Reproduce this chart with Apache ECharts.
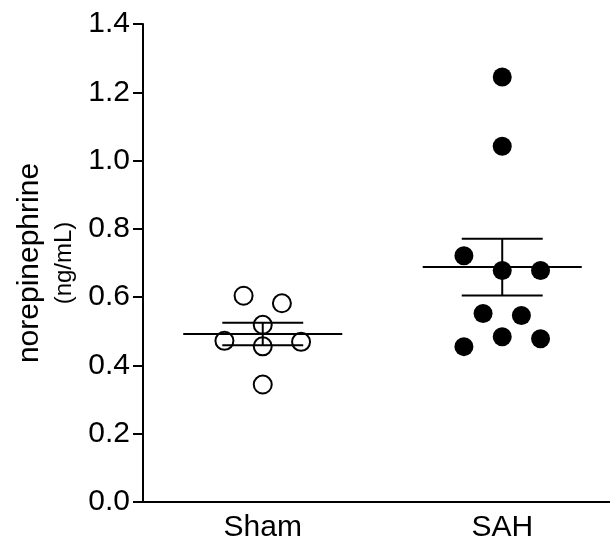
<!DOCTYPE html>
<html>
<head>
<meta charset="utf-8">
<script src="https://cdn.jsdelivr.net/npm/echarts@6/dist/echarts.min.js"></script>
<style>
html, body { margin: 0; padding: 0; background: #fff; }
#chart { width: 610px; height: 540px; }
</style>
</head>
<body>
<div id="chart"></div>
<script>
// groups on the x axis (positions 1 and 2)
const groups = ['Sham', 'SAH']
// individual values, with their horizontal scatter offsets
const shamValues = [0.604, 0.582, 0.519, 0.472, 0.456, 0.469, 0.344]
const shamOffsets = [-0.08, 0.08, 0, -0.16, 0, 0.16, 0]
const sahValues = [1.245, 1.042, 0.721, 0.678, 0.678, 0.552, 0.546, 0.484, 0.478, 0.455]
const sahOffsets = [0, 0, -0.16, 0, 0.16, -0.08, 0.08, 0, 0.16, -0.16]
// mean and SEM per group
const means = [0.492, 0.688]
const sems = [0.033, 0.083]

const font = 'Liberation Sans, Arial, sans-serif'
const chart = echarts.init(document.getElementById('chart'))

const shamData = shamValues.map((v, i) => [1 + shamOffsets[i], v])
const sahData = sahValues.map((v, i) => [2 + sahOffsets[i], v])
const errData = means.map((m, i) => [i + 1, m, sems[i]])

const option = {
  animation: false,
  grid: {
    left: 143,
    right: 0,
    top: 24,
    bottom: 38,
    containLabel: false,
    outerBoundsMode: 'none'
  },
  xAxis: {
    type: 'value',
    min: 0.5,
    max: 2.45,
    interval: 0.5,
    splitLine: { show: false },
    axisTick: { show: false },
    axisLine: { show: true, onZero: false, lineStyle: { color: '#000', width: 2 } },
    axisLabel: {
      margin: 11,
      color: '#000',
      fontSize: 30,
      fontFamily: font,
      showMinLabel: true,
      showMaxLabel: false,
      formatter: function (v) {
        return Number.isInteger(v) ? groups[v - 1] : ''
      }
    }
  },
  yAxis: {
    type: 'value',
    min: 0,
    max: 1.4,
    interval: 0.2,
    splitLine: { show: false },
    axisLine: { show: true, lineStyle: { color: '#000', width: 2 } },
    axisTick: { show: true, length: 10, lineStyle: { color: '#000', width: 2 } },
    axisLabel: {
      margin: 13,
      color: '#000',
      fontSize: 30,
      fontFamily: font,
      formatter: v => v.toFixed(1)
    },
    name: '{a|norepinephrine}\n{b|(ng/mL)}',
    nameLocation: 'middle',
    nameRotate: 90,
    nameGap: 63,
    nameTextStyle: {
      color: '#000',
      fontFamily: font,
      align: 'center',
      rich: {
        a: { fontSize: 30, lineHeight: 38, fontFamily: font, color: '#000', align: 'center' },
        b: { fontSize: 24, lineHeight: 31, fontFamily: font, color: '#000', align: 'center' }
      }
    }
  },
  series: [
    {
      type: 'custom',
      name: 'mean-sem',
      z: 3,
      data: errData,
      renderItem: function (params, api) {
        const x = api.value(0)
        const m = api.value(1)
        const s = api.value(2)
        const meanL = api.coord([x - 0.332, m])
        const meanR = api.coord([x + 0.332, m])
        const top = api.coord([x, m + s])
        const bot = api.coord([x, m - s])
        const capL = api.coord([x - 0.169, m])[0]
        const capR = api.coord([x + 0.169, m])[0]
        const style = { stroke: '#000', lineWidth: 2 }
        return {
          type: 'group',
          children: [
            { type: 'line', shape: { x1: meanL[0], y1: meanL[1], x2: meanR[0], y2: meanR[1] }, style: style },
            { type: 'line', shape: { x1: top[0], y1: top[1], x2: bot[0], y2: bot[1] }, style: style },
            { type: 'line', shape: { x1: capL, y1: top[1], x2: capR, y2: top[1] }, style: style },
            { type: 'line', shape: { x1: capL, y1: bot[1], x2: capR, y2: bot[1] }, style: style }
          ]
        }
      }
    },
    {
      type: 'scatter',
      name: 'Sham',
      z: 2,
      data: shamData,
      symbol: 'circle',
      symbolSize: 18,
      itemStyle: { color: '#fff', borderColor: '#000', borderWidth: 2, opacity: 1 }
    },
    {
      type: 'scatter',
      name: 'SAH',
      z: 2,
      data: sahData,
      symbol: 'circle',
      symbolSize: 19,
      itemStyle: { color: '#000', opacity: 1 }
    }
  ]
}
chart.setOption(option)
</script>
</body>
</html>
